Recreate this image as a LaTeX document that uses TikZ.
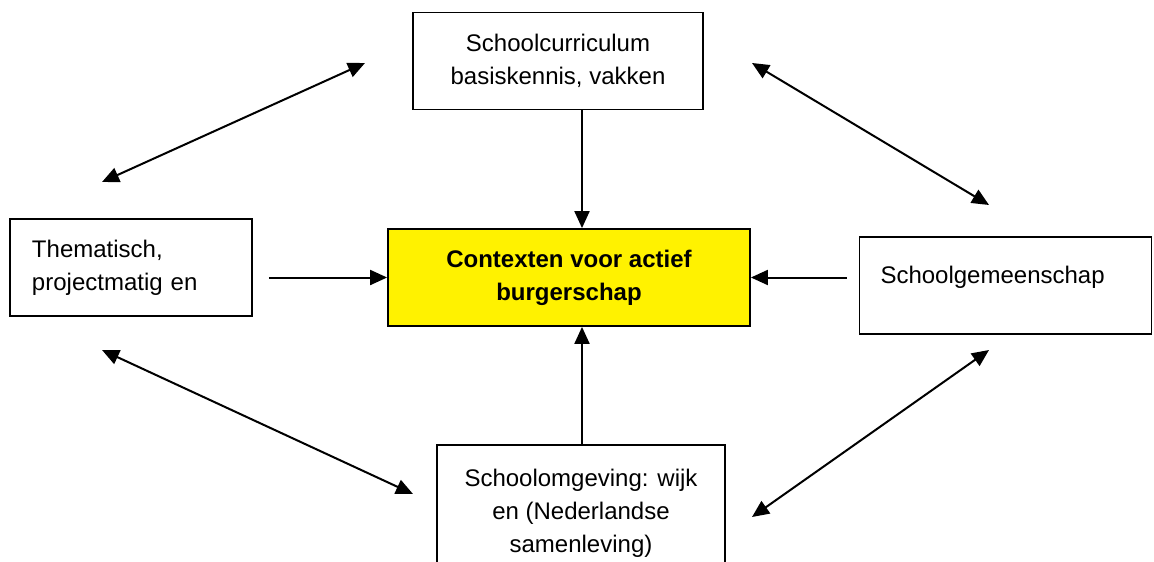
\documentclass[tikz,border=0pt]{standalone}
\usepackage{fontspec}
\setmainfont{Liberation Sans}
\usetikzlibrary{arrows.meta}
\begin{document}
\begin{tikzpicture}[x=0.5pt,y=-0.5pt,
  box/.style={draw,line width=0.9pt,inner sep=0pt,minimum height=48.5pt,font=\fontsize{12}{16.5}\selectfont},
  link/.style={line width=1pt,-{Triangle[length=8.5pt,width=7.5pt]}},
  both/.style={line width=1pt,{Triangle[length=8.5pt,width=7.5pt]}-{Triangle[length=8.5pt,width=7.5pt]}}]
\useasboundingbox (0,0) rectangle (1154,561);
\clip (0,0) rectangle (1154,561);
\node[box,minimum width=145pt,align=center] (curric) at (558,61) {Schoolcurriculum\\basiskennis, vakken};
\node[box,minimum width=181pt,align=center,fill=yellow,font=\fontsize{12}{16.5}\selectfont\bfseries] (context) at (569,277.5) {Contexten voor actief\\burgerschap};
\node[box,text width=99pt,inner xsep=11pt,align=left] (thema) at (131,267.5) {Thematisch,\\projectmatig en};
\node[box,text width=125pt,inner xsep=10.5pt,align=left,text depth=11pt] (gemeen) at (1005.5,285.5) {Schoolgemeenschap};
\node[box,minimum width=144pt,minimum height=68pt,align=center] (omgeving) at (581,513) {Schoolomgeving: wijk\\en (Nederlandse\\samenleving)};
\coordinate (mid) at (582,0);
\draw[link] (curric.south -| mid) -- (context.north -| mid);
\draw[link] (omgeving.north -| mid) -- (context.south -| mid);
\draw[link] ([xshift=8pt]thema.east |- context.west) -- (context.west);
\draw[link] ([xshift=-6pt]gemeen.west |- context.east) -- (context.east);
\coordinate (tl1) at (102,182);
\coordinate (tl2) at (365,63);
\coordinate (tr1) at (752,63);
\coordinate (tr2) at (989,205);
\coordinate (bl1) at (102,350);
\coordinate (bl2) at (413,494);
\coordinate (br1) at (752,517);
\coordinate (br2) at (989,350);
\draw[both] (tl1) -- (tl2);
\draw[both] (tr1) -- (tr2);
\draw[both] (bl1) -- (bl2);
\draw[both] (br1) -- (br2);
\end{tikzpicture}
\end{document}
